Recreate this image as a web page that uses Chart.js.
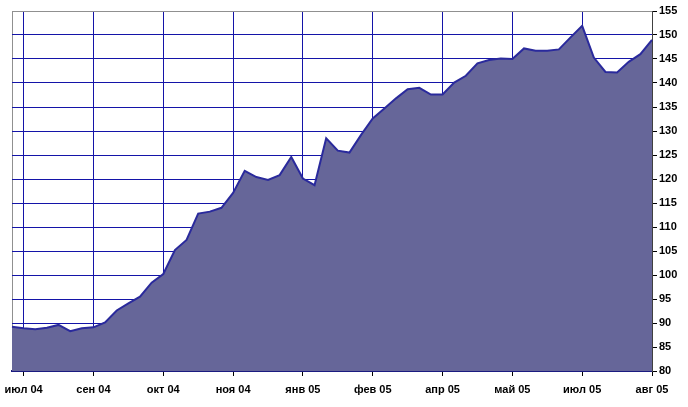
<!DOCTYPE html>
<html>
<head>
<meta charset="utf-8">
<script src="https://cdn.jsdelivr.net/npm/chart.js@4"></script>
<style>
  html, body { margin: 0; padding: 0; background: #fff; }
  #wrap { width: 688px; height: 407px; position: relative; }
</style>
</head>
<body>
<div id="wrap"><canvas id="chart"></canvas></div>
<script>
// weekly values, July 2004 - August 2005
const values = [
    89.2, 88.9, 88.7, 89.0, 89.6, 88.3, 88.9, 89.1, 90.1, 92.6,
    94.1, 95.5, 98.4, 100.2, 105.2, 107.3, 112.8, 113.2, 114.0, 117.1,
    121.7, 120.4, 119.8, 120.8, 124.6, 120.1, 118.7, 128.5, 125.9, 125.5,
    129.2, 132.6, 134.7, 136.8, 138.7, 139.0, 137.6, 137.6, 140.1, 141.5,
    144.1, 144.8, 145.1, 145.0, 147.2, 146.7, 146.7, 147.0, 149.5, 151.9,
    145.3, 142.3, 142.2, 144.4, 146.0, 149.0
];
const monthTicks = ['июл 04', 'сен 04', 'окт 04', 'ноя 04', 'янв 05',
                    'фев 05', 'апр 05', 'май 05', 'июл 05', 'авг 05'];
const firstTick = 1;
const tickEvery = 6;

// one category per week, label only every 6th one
const labels = values.map((v, i) =>
    (i >= firstTick && (i - firstTick) % tickEvery === 0) ? monthTicks[(i - firstTick) / tickEvery] : '');

const navy = '#1414a8';

Chart.defaults.font.family = 'Arial, "Liberation Sans", sans-serif';
Chart.defaults.font.size = 11;
Chart.defaults.font.weight = 'bold';
Chart.defaults.color = '#000';

new Chart(document.getElementById('chart').getContext('2d'), {
    type: 'line',
    data: {
        labels: labels,
        datasets: [{
            data: values,
            fill: 'start',
            backgroundColor: '#666699',
            borderColor: '#2a2a9c',
            borderWidth: 2,
            pointRadius: 0,
            tension: 0
        }]
    },
    options: {
        responsive: true,
        maintainAspectRatio: false,
        animation: false,
        layout: { padding: { left: 12, top: 11, right: 0, bottom: 0 } },
        plugins: {
            legend: { display: false },
            tooltip: { enabled: false }
        },
        scales: {
            x: {
                type: 'category',
                offset: false,
                afterFit: (s) => { s.height = 36; },
                grid: {
                    offset: false,
                    color: (c) => c.index === 0 ? '#909090' : (labels[c.index] ? navy : 'rgba(0,0,0,0)'),
                    tickColor: (c) => labels[c.index] ? '#000' : 'rgba(0,0,0,0)',
                    tickLength: 5
                },
                border: { color: '#1a1a80', width: 2 },
                ticks: {
                    autoSkip: false,
                    maxRotation: 0,
                    padding: 7
                }
            },
            y: {
                position: 'right',
                min: 80,
                max: 155,
                afterFit: (s) => { s.width = 36; },
                grid: {
                    color: (c) => c.tick && c.tick.value === 155 ? '#909090' : navy,
                    tickColor: '#000',
                    tickLength: 5
                },
                border: { color: '#404040', width: 1 },
                ticks: {
                    stepSize: 5,
                    padding: 2
                }
            }
        }
    }
});
</script>
</body>
</html>
